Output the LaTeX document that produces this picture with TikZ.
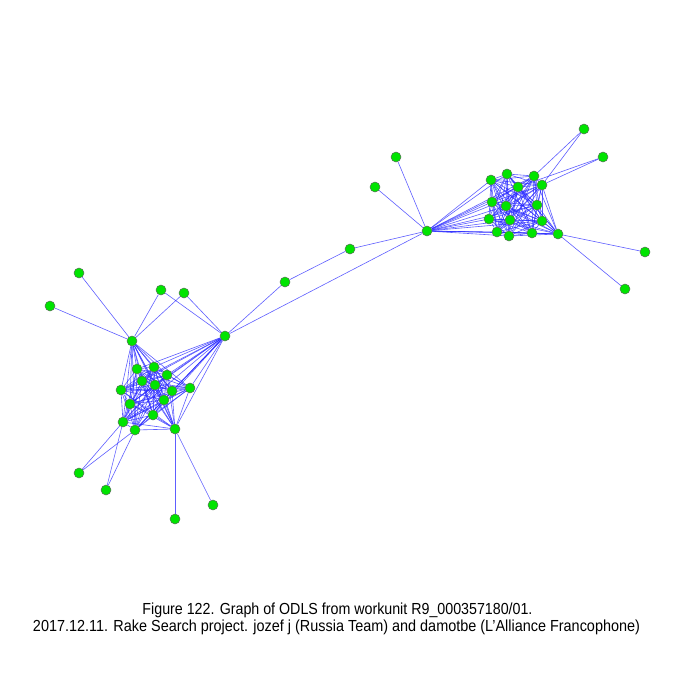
\documentclass[tikz,border=0pt]{standalone}
\usepackage{fontspec}
\setmainfont{Liberation Sans}
\usetikzlibrary{backgrounds}
\definecolor{nodegreen}{RGB}{0,228,0}
\definecolor{nodeborder}{RGB}{90,110,90}
\definecolor{edgeblue}{RGB}{40,40,255}
\begin{document}
\begin{tikzpicture}[x=1pt,y=-1pt,
  vtx/.style={circle,fill=nodegreen,draw=nodeborder,line width=0.5pt,inner sep=0pt,minimum size=10pt},
  edge/.style={draw=edgeblue,opacity=0.75,line width=0.6pt},
  captxt/.style={anchor=base,inner sep=0pt,font=\fontsize{16}{19}\selectfont}]
\useasboundingbox (0,0) rectangle (675,675);
% left cluster
\foreach \n/\x/\y in {L1/137/369, L2/154/367, L3/167/375, L4/142/381, L5/155/385, L6/121/390, L7/190/388, L8/172/391, L9/164/400, L10/130/404, L11/153/415, L12/123/422, L13/135/430, L14/175/429}
  \node[vtx] (\n) at (\x,\y) {};
\node[vtx] (A) at (132,341) {};
\node[vtx] (H1) at (225,336) {};
\node[vtx] (OA1) at (79,273) {};
\node[vtx] (OA2) at (50,306) {};
\node[vtx] (OT1) at (161,290) {};
\node[vtx] (OT2) at (184,293) {};
\node[vtx] (OB1) at (79,473) {};
\node[vtx] (OB2) at (106,490) {};
\node[vtx] (OB3) at (175,519) {};
\node[vtx] (OB4) at (213,505) {};
% middle
\node[vtx] (M1) at (285,282) {};
\node[vtx] (M2) at (350,249) {};
% right cluster
\node[vtx] (H2) at (427,231) {};
\foreach \n/\x/\y in {R1/491/180, R2/507/174, R3/534/176, R4/518/187, R5/542/185, R6/492/202, R7/506/206, R8/537/205, R9/489/219, R10/510/220, R11/542/221, R12/497/232, R13/509/236, R14/532/233, R15/558/234}
  \node[vtx] (\n) at (\x,\y) {};
\node[vtx] (OR1) at (584,129) {};
\node[vtx] (OR2) at (603,157) {};
\node[vtx] (OR3) at (396,157) {};
\node[vtx] (OR4) at (375,187) {};
\node[vtx] (OR5) at (645,252) {};
\node[vtx] (OR6) at (625,289) {};
% caption
\node[captxt] (cap1) at (337.5,614) {\resizebox{390pt}{\height}{Figure 122. Graph of ODLS from workunit R9\_000357180/01.}};
\node[captxt] (cap2) at (336.5,631) {\resizebox{607pt}{\height}{2017.12.11. Rake Search project. jozef j (Russia Team) and damotbe (L'Alliance Francophone)}};
\begin{scope}[on background layer]
  % left cluster interior
  \foreach \i in {1,...,13}{
    \pgfmathtruncatemacro\k{\i+1}
    \foreach \j in {\k,...,14}{ \draw[edge] (L\i) -- (L\j); }
  }
  \foreach \i in {1,...,14}{ \draw[edge] (A) -- (L\i); \draw[edge] (H1) -- (L\i); }
  \draw[edge] (A) -- (OA1);
  \draw[edge] (A) -- (OA2);
  \draw[edge] (A) -- (OT1);
  \draw[edge] (A) -- (OT2);
  \draw[edge] (H1) -- (OT1);
  \draw[edge] (H1) -- (OT2);
  \draw[edge] (OB1) -- (L12);
  \draw[edge] (OB1) -- (L13);
  \draw[edge] (OB2) -- (L12);
  \draw[edge] (OB2) -- (L13);
  \draw[edge] (OB3) -- (L14);
  \draw[edge] (OB4) -- (L14);
  % bridge
  \draw[edge] (H1) -- (M1);
  \draw[edge] (M1) -- (M2);
  \draw[edge] (M2) -- (H2);
  \draw[edge] (H1) -- (H2);
  % right cluster interior
  \foreach \i in {1,...,14}{
    \pgfmathtruncatemacro\k{\i+1}
    \foreach \j in {\k,...,15}{ \draw[edge] (R\i) -- (R\j); }
  }
  \foreach \i in {1,...,15}{ \draw[edge] (H2) -- (R\i); }
  \draw[edge] (H2) -- (OR3);
  \draw[edge] (H2) -- (OR4);
  \draw[edge] (OR1) -- (R3);
  \draw[edge] (OR1) -- (R5);
  \draw[edge] (OR2) -- (R4);
  \draw[edge] (OR2) -- (R5);
  \draw[edge] (R15) -- (OR5);
  \draw[edge] (R15) -- (OR6);
\end{scope}
\end{tikzpicture}
\end{document}
